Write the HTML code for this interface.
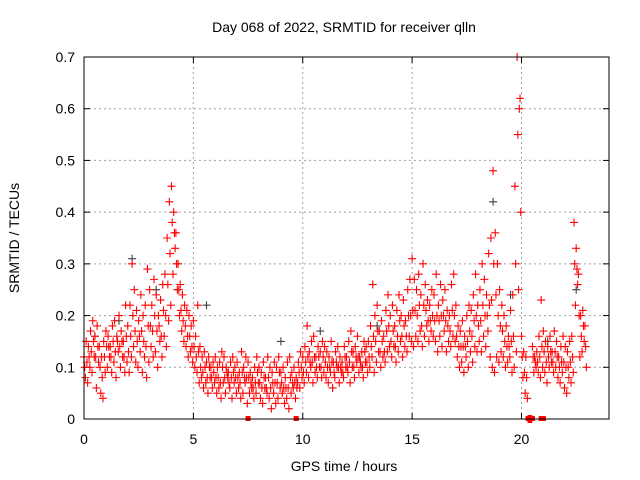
<!DOCTYPE html>
<html><head><meta charset="utf-8"><style>
body{margin:0;background:#fff}
svg{display:block;font-family:"Liberation Sans",sans-serif}
</style></head><body>
<svg id="chart" width="640" height="480" viewBox="0 0 640 480" xmlns="http://www.w3.org/2000/svg">
<rect width="640" height="480" fill="#fff"/>
<text x="344" y="32" font-size="14" text-anchor="middle">Day 068 of 2022, SRMTID for receiver qlln</text>
<g id="grid"></g>
<g id="ticks"></g>
<g id="marks"></g>
<rect x="84" y="57" width="525" height="362" fill="none" stroke="#000" stroke-width="1"/>
<text x="344" y="471" font-size="14" text-anchor="middle">GPS time / hours</text>
<text transform="translate(19,238) rotate(-90)" font-size="14" text-anchor="middle">SRMTID / TECUs</text>
</svg>
<script>
const xTicks=[0,5,10,15,20];
const yTicks=[0,0.1,0.2,0.3,0.4,0.5,0.6,0.7];
const yTickLabels=["0","0.1","0.2","0.3","0.4","0.5","0.6","0.7"];
const t0=0, tStep=0.1;
const seriesUpper=[12,15,14,17,19,16,18,14,12,15,17,16,14,18,19,16,20,17,15,22,18,22,30,25,21,19,24,20,22,29,25,22,27,24,20,23,26,28,35,42,45,40,36,30,26,24,22,21,20,18,19,16,22,14,12,13,11,12,10,11,12,10,11,13,12,10,9,11,12,10,11,9,13,10,12,11,9,8,10,12,10,9,11,8,12,10,9,11,10,12,9,10,8,11,12,9,10,8,11,13,12,14,18,13,15,16,12,14,13,15,14,13,12,15,11,13,14,12,11,14,12,15,17,13,14,16,12,13,15,14,15,18,26,20,22,17,19,16,21,24,20,22,18,21,24,20,23,19,25,27,31,27,25,28,24,30,26,23,22,25,24,28,22,26,23,25,21,20,26,28,22,18,17,19,16,20,22,21,24,28,22,25,30,27,24,32,35,48,36,30,25,22,20,18,16,21,24,45,70,60,16,13,12,0,0,14,12,13,16,23,17,15,14,16,13,17,15,12,14,16,14,13,15,16,38,33,28,20,21,18];
const seriesMid=[10,11,12,13,15,12,14,10,8,12,14,14,12,15,13,15,14,15,12,16,13,16,20,17,15,16,17,15,14,18,18,17,20,17,18,16,21,20,26,32,38,36,30,25,21,19,18,16,16,14,14,12,13,10,9,10,8,10,8,9,8,8,7,10,8,9,7,8,9,8,8,7,9,8,8,8,7,6,7,9,7,6,8,6,8,6,7,7,7,9,7,6,6,6,8,7,7,6,9,10,9,11,12,11,11,12,10,12,10,12,11,10,10,11,9,11,10,10,9,12,10,11,13,10,12,12,11,10,13,11,12,14,16,15,17,13,15,13,17,18,15,17,14,16,19,16,18,16,20,20,21,21,20,22,18,22,21,19,19,20,19,20,19,20,20,19,18,17,21,20,16,14,14,14,14,15,17,16,19,20,18,19,22,20,20,22,23,30,24,20,18,17,15,14,14,15,16,30,55,62,12,9,8,0,0,12,11,11,12,14,13,11,12,13,11,13,12,10,11,11,10,10,11,12,30,29,20,16,18,14];
const seriesLower=[8,7,10,9,12,6,11,5,4,9,10,12,9,11,8,13,10,12,9,11,9,12,14,11,10,13,9,12,8,11,14,12,13,10,15,12,16,14,19,22,28,33,25,20,17,15,14,12,13,11,10,9,7,8,6,7,5,8,6,7,5,6,4,7,5,8,6,4,7,5,6,4,5,7,3,5,6,4,5,7,4,3,6,5,4,2,5,3,4,6,5,3,4,2,5,6,4,7,6,8,7,9,8,10,7,9,8,10,8,9,8,7,9,6,8,10,7,9,8,10,9,7,10,8,11,9,10,8,11,9,10,12,9,11,13,10,12,11,13,14,12,14,11,13,15,12,14,13,16,15,14,16,15,17,14,16,18,15,17,16,15,13,16,14,17,13,15,14,16,15,12,10,11,9,12,10,13,11,14,13,15,13,16,14,17,12,10,9,12,11,13,12,10,11,12,9,10,13,25,40,8,5,4,0,0,9,10,9,8,10,9,7,10,11,9,10,8,7,9,6,5,8,7,9,22,26,12,13,15,10];
const zeroTimes=[7.5,9.7,20.3,20.4,20.5,20.9,21.0];
const grayTimes=[0.5,1.6,2.2,3.3,5.6,9.0,10.8,13.4,18.7,19.5,21.2,22.5];
const grayValues=[0.16,0.19,0.31,0.25,0.22,0.15,0.17,0.18,0.42,0.24,0.15,0.25];

const X0=84,X1=609,Y0=419,Y1=57,XMAX=24,YMAX=0.7;
const xs=v=>X0+(X1-X0)*v/XMAX;
const ys=v=>Y0-(Y0-Y1)*v/YMAX;
const NS="http://www.w3.org/2000/svg";
function mk(tag,attrs,parent){const e=document.createElementNS(NS,tag);for(const k in attrs)e.setAttribute(k,attrs[k]);parent.appendChild(e);return e;}
const grid=document.getElementById('grid'),ticks=document.getElementById('ticks'),marks=document.getElementById('marks');
xTicks.forEach(v=>{const x=xs(v);
 if(v>0){const g=mk('line',{x1:x,x2:x,y1:Y0,y2:Y1,stroke:'#a0a0a0','stroke-dasharray':'2,3'},grid);
 
 }
 mk('line',{x1:x,x2:x,y1:Y0,y2:Y0-6,stroke:'#000'},ticks);
 mk('line',{x1:x,x2:x,y1:Y1,y2:Y1+6,stroke:'#000'},ticks);
 const t=mk('text',{x:x,y:Y0+25,'font-size':14,'text-anchor':'middle'},ticks);t.textContent=v;
 
 
});
yTicks.forEach((v,i)=>{const y=ys(v);
 if(v>0&&v<YMAX){const g=mk('line',{x1:X0,x2:X1,y1:y,y2:y,stroke:'#a0a0a0','stroke-dasharray':'2,3'},grid);
 
 }
 mk('line',{x1:X0,x2:X0+6,y1:y,y2:y,stroke:'#000'},ticks);
 mk('line',{x1:X1,x2:X1-6,y1:y,y2:y,stroke:'#000'},ticks);
 const t=mk('text',{x:X0-9,y:y+5,'font-size':14,'text-anchor':'end'},ticks);t.textContent=yTickLabels[i];
 
 
});
function plus(t,v,color){const x=xs(t),y=ys(v);
 const p=mk('path',{d:`M${x-4},${y}H${x+4}M${x},${y-4}V${y+4}`,stroke:color,'stroke-width':1.1,fill:'none'},marks);
 
 
}
grayTimes.forEach((t,i)=>plus(t,grayValues[i],'#404040'));
[[seriesUpper,0],[seriesMid,0.033],[seriesLower,0.066]].forEach(([arr,off])=>{
 arr.forEach((v,i)=>plus(t0+i*tStep+off,v/100,'#ff0000'));
});
zeroTimes.forEach(t=>{const r=mk('rect',{x:xs(t)-2.5,y:Y0-3,width:5,height:5,fill:'#ff0000'},marks);
 
 });
</script>
</body></html>
